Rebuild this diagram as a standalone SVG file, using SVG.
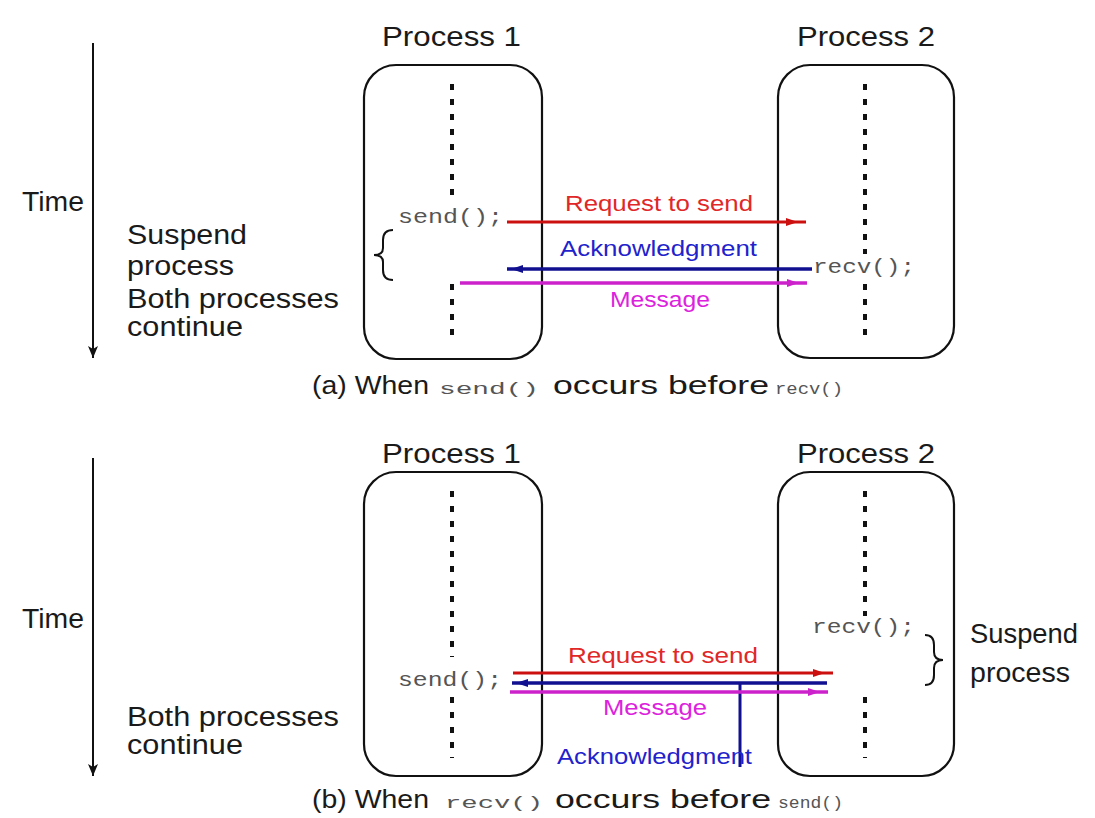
<svg xmlns="http://www.w3.org/2000/svg" width="1095" height="818" viewBox="0 0 1095 818">
  <style>
    .bg { fill: #ffffff; }
    .box { fill: none; stroke: #111; stroke-width: 2.2; }
    .life { stroke: #111; stroke-width: 4; stroke-dasharray: 6 9; fill: none; }
    .axis { stroke: #111; stroke-width: 2; fill: none; }
    .brace { stroke: #111; stroke-width: 2; fill: none; }
    .lbl { font-family: "Liberation Sans", Arial, sans-serif; font-size: 27px; fill: #1a1a1a; }
    .cap { font-family: "Liberation Sans", Arial, sans-serif; font-size: 25px; fill: #1a1a1a; }
    .code { font-family: "Liberation Mono", "Courier New", monospace; font-size: 20px; fill: #555; }
    .ccode { font-family: "Liberation Mono", "Courier New", monospace; font-size: 17px; fill: #555; }
    .msg { font-family: "Liberation Sans", Arial, sans-serif; font-size: 22px; }
    .req { fill: #e02828; }
    .ack { fill: #2222cc; }
    .mes { fill: #dd22dd; }
    .lreq { stroke: #cc1010; stroke-width: 3; fill: none; }
    .lack { stroke: #101090; stroke-width: 3.5; fill: none; }
    .lmes { stroke: #cc22cc; stroke-width: 3.5; fill: none; }
  </style>
  <defs>
    <marker id="hBlack" markerUnits="userSpaceOnUse" markerWidth="14" markerHeight="12" refX="12" refY="6" orient="auto">
      <path d="M0,1 L12,6 L0,11 L3,6 z" fill="#111"/>
    </marker>
    <marker id="hRed" markerUnits="userSpaceOnUse" markerWidth="24" markerHeight="12" refX="20" refY="6" orient="auto">
      <path d="M0,2 L12,6 L0,10 z" fill="#cc1010"/>
    </marker>
    <marker id="hBlue" markerUnits="userSpaceOnUse" markerWidth="24" markerHeight="12" refX="16" refY="6" orient="auto">
      <path d="M0,2 L12,6 L0,10 z" fill="#101090"/>
    </marker>
    <marker id="hMag" markerUnits="userSpaceOnUse" markerWidth="24" markerHeight="12" refX="20" refY="6" orient="auto">
      <path d="M0,2 L12,6 L0,10 z" fill="#cc22cc"/>
    </marker>
  </defs>

  <rect class="bg" x="0" y="0" width="1095" height="818"/>

  <!-- ===== (a) send() before recv() ===== -->
  <g id="time-a">
    <line class="axis" x1="93" y1="43" x2="93" y2="358" marker-end="url(#hBlack)"/>
    <text class="lbl" x="22" y="211" textLength="62" lengthAdjust="spacingAndGlyphs">Time</text>
  </g>

  <g id="notes-a">
    <text class="lbl" x="127" y="244" textLength="120" lengthAdjust="spacingAndGlyphs">Suspend</text>
    <text class="lbl" x="127" y="275" textLength="107" lengthAdjust="spacingAndGlyphs">process</text>
    <text class="lbl" x="127" y="308" textLength="212" lengthAdjust="spacingAndGlyphs">Both processes</text>
    <text class="lbl" x="127" y="336" textLength="116" lengthAdjust="spacingAndGlyphs">continue</text>
  </g>

  <g id="p1-a">
    <text class="lbl" x="382" y="46" textLength="139" lengthAdjust="spacingAndGlyphs">Process 1</text>
    <rect class="box" x="364" y="65" width="178" height="294" rx="32" ry="32"/>
    <line class="life" x1="452" y1="84" x2="452" y2="195"/>
    <line class="life" x1="452" y1="284" x2="452" y2="342"/>
    <text class="code" x="398" y="223" textLength="105" lengthAdjust="spacingAndGlyphs">send();</text>
    <path class="brace" d="M393,230 Q383,230 383,240 L383,248 Q383,255 374,255 Q383,255 383,262 L383,270 Q383,280 393,280"/>
  </g>

  <g id="p2-a">
    <text class="lbl" x="797" y="46" textLength="138" lengthAdjust="spacingAndGlyphs">Process 2</text>
    <rect class="box" x="778" y="65" width="176" height="293" rx="32" ry="32"/>
    <line class="life" x1="865" y1="84" x2="865" y2="254"/>
    <line class="life" x1="865" y1="284" x2="865" y2="342"/>
    <text class="code" x="813" y="273" textLength="102" lengthAdjust="spacingAndGlyphs">recv();</text>
  </g>

  <g id="messages-a">
    <line class="lreq" x1="507" y1="222" x2="806" y2="222" marker-end="url(#hRed)"/>
    <line class="lack" x1="812" y1="269" x2="507" y2="269" marker-end="url(#hBlue)"/>
    <line class="lmes" x1="460" y1="283" x2="807" y2="283" marker-end="url(#hMag)"/>
    <text class="msg req" x="565" y="211" textLength="188" lengthAdjust="spacingAndGlyphs">Request to send</text>
    <text class="msg ack" x="560" y="256" textLength="197" lengthAdjust="spacingAndGlyphs">Acknowledgment</text>
    <text class="msg mes" x="610" y="307" textLength="100" lengthAdjust="spacingAndGlyphs">Message</text>
  </g>

  <g id="caption-a">
    <text class="cap" x="312" y="394" textLength="117" lengthAdjust="spacingAndGlyphs">(a) When</text>
    <text class="ccode" x="439" y="394" textLength="100" lengthAdjust="spacingAndGlyphs">send()</text>
    <text class="cap" x="553" y="394" textLength="216" lengthAdjust="spacingAndGlyphs">occurs before</text>
    <text class="ccode" x="775" y="394" textLength="68" lengthAdjust="spacingAndGlyphs">recv()</text>
  </g>

  <!-- ===== (b) recv() before send() ===== -->
  <g id="time-b">
    <line class="axis" x1="93" y1="458" x2="93" y2="776" marker-end="url(#hBlack)"/>
    <text class="lbl" x="22" y="628" textLength="62" lengthAdjust="spacingAndGlyphs">Time</text>
  </g>

  <g id="notes-b">
    <text class="lbl" x="127" y="726" textLength="212" lengthAdjust="spacingAndGlyphs">Both processes</text>
    <text class="lbl" x="127" y="754" textLength="116" lengthAdjust="spacingAndGlyphs">continue</text>
    <text class="lbl" x="970" y="643" textLength="108" lengthAdjust="spacingAndGlyphs">Suspend</text>
    <text class="lbl" x="970" y="682" textLength="100" lengthAdjust="spacingAndGlyphs">process</text>
  </g>

  <g id="p1-b">
    <text class="lbl" x="382" y="463" textLength="139" lengthAdjust="spacingAndGlyphs">Process 1</text>
    <rect class="box" x="364" y="472" width="178" height="304" rx="32" ry="32"/>
    <line class="life" x1="452" y1="491" x2="452" y2="657"/>
    <line class="life" x1="452" y1="697" x2="452" y2="758"/>
    <text class="code" x="398" y="686" textLength="104" lengthAdjust="spacingAndGlyphs">send();</text>
  </g>

  <g id="p2-b">
    <text class="lbl" x="797" y="463" textLength="138" lengthAdjust="spacingAndGlyphs">Process 2</text>
    <rect class="box" x="778" y="472" width="176" height="304" rx="32" ry="32"/>
    <line class="life" x1="865" y1="491" x2="865" y2="616"/>
    <line class="life" x1="865" y1="697" x2="865" y2="758"/>
    <text class="code" x="812" y="633" textLength="103" lengthAdjust="spacingAndGlyphs">recv();</text>
    <path class="brace" d="M925,635 Q934,635 934,645 L934,652 Q934,660 943,660 Q934,660 934,668 L934,675 Q934,685 925,685"/>
  </g>

  <g id="messages-b">
    <line class="lreq" x1="513" y1="673" x2="833" y2="673" marker-end="url(#hRed)"/>
    <line class="lack" x1="827" y1="683" x2="512" y2="683" marker-end="url(#hBlue)"/>
    <line class="lack" x1="740" y1="683" x2="740" y2="767" style="stroke-width:3"/>
    <line class="lmes" x1="510" y1="692" x2="828" y2="692" marker-end="url(#hMag)"/>
    <text class="msg req" x="568" y="663" textLength="190" lengthAdjust="spacingAndGlyphs">Request to send</text>
    <text class="msg mes" x="603" y="715" textLength="104" lengthAdjust="spacingAndGlyphs">Message</text>
    <text class="msg ack" x="557" y="764" textLength="195" lengthAdjust="spacingAndGlyphs">Acknowledgment</text>
  </g>

  <g id="caption-b">
    <text class="cap" x="312" y="808" textLength="117" lengthAdjust="spacingAndGlyphs">(b) When</text>
    <text class="ccode" x="445" y="808" textLength="98" lengthAdjust="spacingAndGlyphs">recv()</text>
    <text class="cap" x="555" y="808" textLength="216" lengthAdjust="spacingAndGlyphs">occurs before</text>
    <text class="ccode" x="778" y="808" textLength="65" lengthAdjust="spacingAndGlyphs">send()</text>
  </g>
</svg>
